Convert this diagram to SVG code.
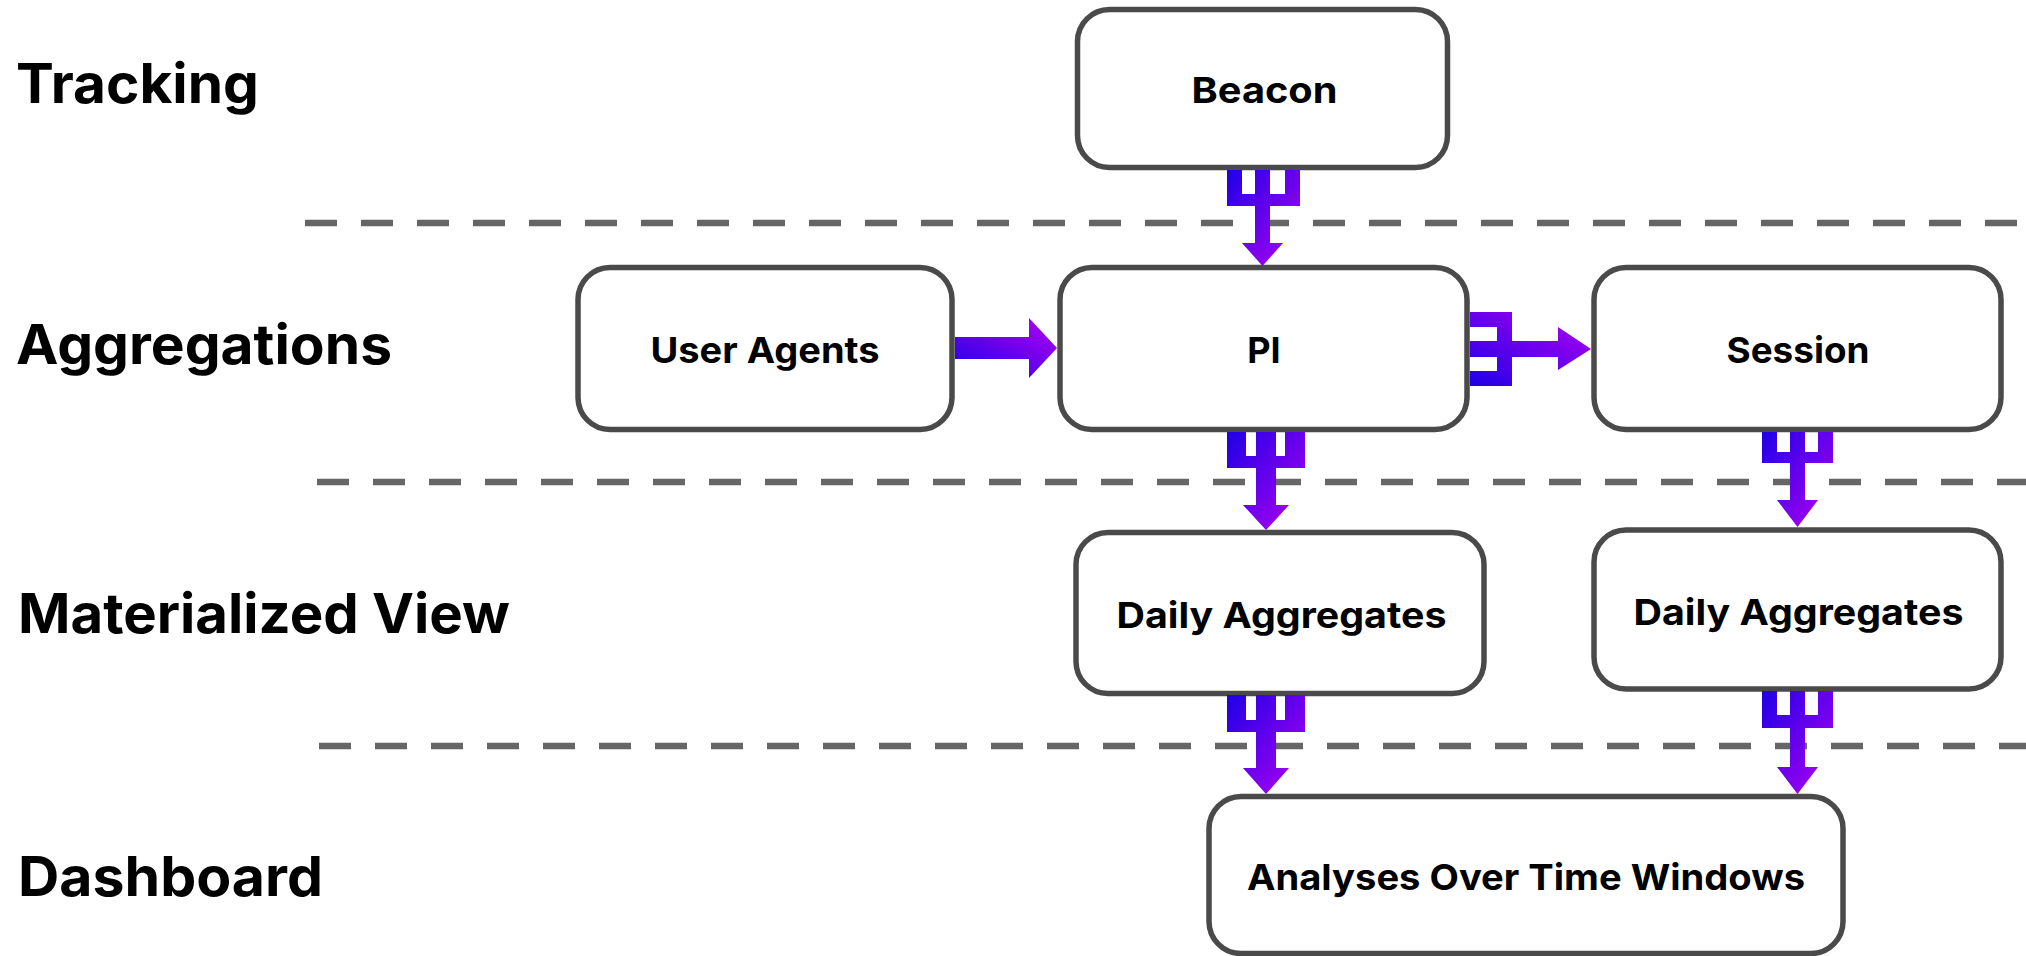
<svg xmlns="http://www.w3.org/2000/svg" width="2026" height="956" viewBox="0 0 2026 956">
<style>
.node rect{fill:#ffffff;stroke:#4a4a4a;stroke-width:5.5}
.node text{font-family:Inter,"Liberation Sans",sans-serif;font-weight:700;font-size:36px;fill:#000;text-anchor:middle}
.lane{font-family:Inter,"Liberation Sans",sans-serif;font-weight:700;font-size:55px;fill:#000}
.sep{stroke:#666666;stroke-width:6.5;stroke-dasharray:32 24;fill:none}
</style>
<defs>
<linearGradient id="gd" x1="0" y1="0" x2="1" y2="1">
<stop offset="0" stop-color="#1E00E6"/>
<stop offset="1" stop-color="#B400F2"/>
</linearGradient>
<linearGradient id="gr" x1="0" y1="1" x2="1" y2="0">
<stop offset="0" stop-color="#1E00E6"/>
<stop offset="1" stop-color="#B400F2"/>
</linearGradient>
</defs>
<g id="lanes">
<text class="lane" x="16" y="102.5" textLength="243" lengthAdjust="spacingAndGlyphs">Tracking</text>
<text class="lane" x="16" y="364" textLength="376" lengthAdjust="spacingAndGlyphs">Aggregations</text>
<text class="lane" x="18" y="633" textLength="492" lengthAdjust="spacingAndGlyphs">Materialized View</text>
<text class="lane" x="18" y="896" textLength="305" lengthAdjust="spacingAndGlyphs">Dashboard</text>
</g>
<g id="separators">
<line class="sep" x1="305" y1="223" x2="2026" y2="223"/>
<line class="sep" x1="317" y1="482" x2="2026" y2="482"/>
<line class="sep" x1="319" y1="746" x2="2026" y2="746"/>
</g>
<g id="beacon" class="node">
<rect x="1077.5" y="9.5" width="370" height="158" rx="32"/>
<text x="1264.5" y="103" textLength="146" lengthAdjust="spacingAndGlyphs">Beacon</text>
</g>
<g id="user-agents" class="node">
<rect x="578" y="267.5" width="374" height="162" rx="32"/>
<text x="765" y="363" textLength="229" lengthAdjust="spacingAndGlyphs">User Agents</text>
</g>
<g id="pi" class="node">
<rect x="1060" y="267.5" width="407" height="162" rx="32"/>
<text x="1264" y="363">PI</text>
</g>
<g id="session" class="node">
<rect x="1594" y="267.5" width="407" height="162" rx="32"/>
<text x="1798" y="363" textLength="143" lengthAdjust="spacingAndGlyphs">Session</text>
</g>
<g id="daily-aggregates-1" class="node">
<rect x="1076" y="532.5" width="408" height="161" rx="32"/>
<text x="1281.5" y="628" textLength="330" lengthAdjust="spacingAndGlyphs">Daily Aggregates</text>
</g>
<g id="daily-aggregates-2" class="node">
<rect x="1594" y="530" width="407" height="159" rx="32"/>
<text x="1798.5" y="625" textLength="330" lengthAdjust="spacingAndGlyphs">Daily Aggregates</text>
</g>
<g id="analyses" class="node">
<rect x="1209" y="796.5" width="634" height="157" rx="32"/>
<text x="1526" y="890" textLength="558" lengthAdjust="spacingAndGlyphs">Analyses Over Time Windows</text>
</g>
<g id="connectors">
<path fill="url(#gd)" d="M1227,170 H1242 V194 H1255 V170 H1270 V194 H1285 V170 H1300 V206 H1270 V243 H1283 L1262.5,266 L1242,243 H1255 V206 H1227 Z"/>
<path fill="url(#gr)" d="M955,337 H1029 V318 L1057,348 L1029,378 V359 H955 Z"/>
<path fill="url(#gr)" d="M1470,312 H1512 V341 H1558 V327 L1591,349 L1558,370 V357 H1512 V386 H1470 V371 H1497 V357 H1470 V341 H1497 V327 H1470 Z"/>
<path fill="url(#gd)" d="M1227,432 H1246 V456 H1256 V432 H1276 V456 H1285 V432 H1305 V468 H1276 V505 H1289 L1266,530 L1243,505 H1256 V468 H1227 Z"/>
<path fill="url(#gd)" d="M1762,432 H1777 V452 H1790 V432 H1805 V452 H1818 V432 H1833 V463 H1805 V500 H1818 L1797.5,527 L1777,500 H1790 V463 H1762 Z"/>
<path fill="url(#gd)" d="M1227,695 H1246 V720 H1256 V695 H1276 V720 H1285 V695 H1305 V732 H1276 V768 H1289 L1266,794 L1243,768 H1256 V732 H1227 Z"/>
<path fill="url(#gd)" d="M1762,691 H1777 V715 H1790 V691 H1805 V715 H1818 V691 H1833 V728 H1805 V767 H1818 L1797.5,794 L1777,767 H1790 V728 H1762 Z"/>
</g>
</svg>
